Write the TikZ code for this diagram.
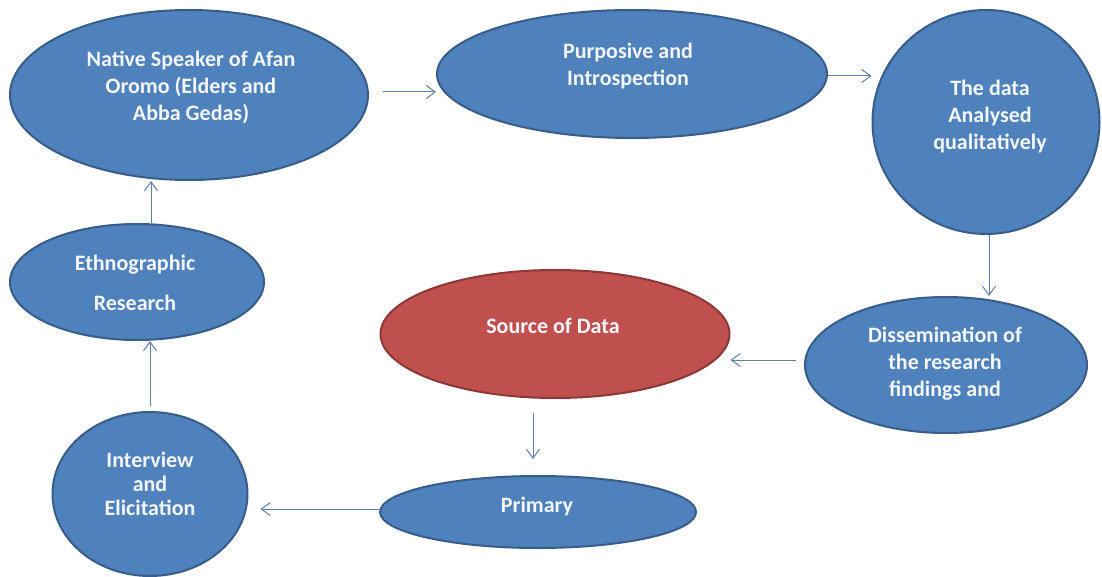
\documentclass[tikz,border=0pt]{standalone}
\usepackage{fontspec}
\setmainfont{Carlito}
\usetikzlibrary{shapes.geometric,arrows.meta}
\definecolor{bfill}{HTML}{4F81BD}
\definecolor{bline}{HTML}{385D8A}
\definecolor{rfill}{HTML}{C0504D}
\definecolor{rline}{HTML}{8C3836}
\definecolor{arrc}{RGB}{95,125,165}
\definecolor{txt}{HTML}{F4F7FB}
\tikzset{
  blob/.style={ellipse, draw=bline, fill=bfill, line width=2pt, inner sep=0pt},
  redblob/.style={ellipse, draw=rline, fill=rfill, line width=2pt, inner sep=0pt},
  lbl/.style={text=txt, align=center, font=\bfseries\fontsize{22}{27}\selectfont, inner sep=0pt},
  arr/.style={draw=arrc, line width=1pt, -{Straight Barb[length=9pt,width=13pt,line width=1pt]}}
}
\begin{document}
\begin{tikzpicture}[x=1pt,y=-1pt]
\useasboundingbox (0,0) rectangle (1102,577);
\fill[white] (0,0) rectangle (1102,577);
% ellipses
\node[blob, minimum width=358pt, minimum height=170pt] (e1) at (189,95) {};
\node[blob, minimum width=390pt, minimum height=128pt] (e2) at (632,74) {};
\node[blob, minimum width=227pt, minimum height=224pt] (e3) at (986,122) {};
\node[blob, minimum width=282pt, minimum height=136pt] (e4) at (946,365) {};
\node[redblob, minimum width=349pt, minimum height=128pt] (e5) at (555,334) {};
\node[blob, minimum width=316pt, minimum height=72pt] (e6) at (538,512) {};
\node[blob, minimum width=195pt, minimum height=164pt] (e7) at (150,494) {};
\node[blob, minimum width=254pt, minimum height=116pt] (e8) at (137,282) {};
% labels
\node[lbl] (t1) at (191,87) {Native Speaker of Afan\\Oromo (Elders and\\Abba Gedas)};
\node[lbl] (t2) at (628,66) {Purposive and\\Introspection};
\node[lbl] (t3) at (990,117) {The data\\Analysed\\qualitatively};
\node[lbl] (t4) at (945,364) {Dissemination of\\the research\\findings and};
\node[lbl] (t5) at (553,326) {Source of Data};
\node[lbl] (t6) at (537,507) {Primary};
\node[lbl, font=\bfseries\fontsize{22}{24}\selectfont] (t7) at (150,484) {Interview\\and\\Elicitation};
\node[lbl] (t8) at (135,283) {Ethnographic\\[13pt]Research};
% connectors
\draw[arr] ([shift={(14pt,3pt)}]e1.east) coordinate (a1) -- (a1 -| e2.west);
\draw[arr] ([yshift=-2pt]e2.east) coordinate (a2) -- (a2 -| e3.west);
\draw[arr] ([xshift=3pt]e3.south) -- ([xshift=3pt]e3.south |- e4.north);
\draw[arr] ([shift={(-8pt,5pt)}]e4.west) coordinate (a4) -- (a4 -| e5.east);
\draw[arr, shorten <=14pt, shorten >=16pt] ([xshift=-5pt]e6.north |- e5.south) -- ([xshift=-5pt]e6.north);
\draw[arr, shorten >=12pt] ([yshift=3pt]e6.west) coordinate (a6) -- (a6 -| e7.east);
\draw[arr, shorten <=5pt] (e7.north) -- (e7.north |- e8.south);
\draw[arr] ([xshift=14pt]e8.north) -- ([xshift=14pt]e8.north |- e1.south);
\end{tikzpicture}
\end{document}
